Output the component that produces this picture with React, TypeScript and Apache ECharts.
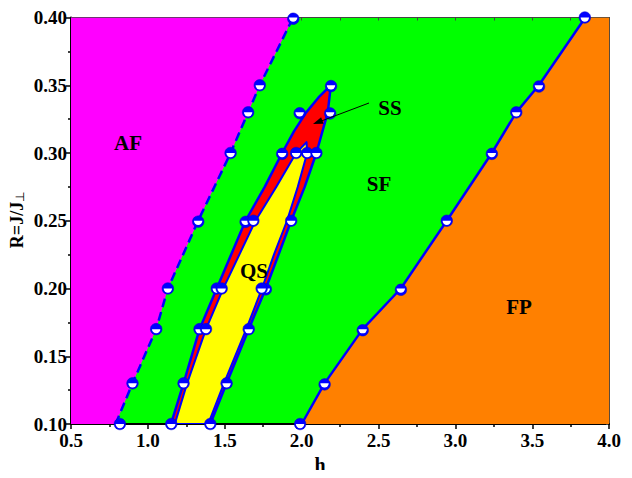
import React, { useEffect, useRef } from "react";
import * as echarts from "echarts";

// ---- data ----
const xTicks = [0.5, 1.0, 1.5, 2.0, 2.5, 3.0, 3.5, 4.0];
const yTicks = [0.1, 0.15, 0.2, 0.25, 0.3, 0.35, 0.4];

// AF / SF boundary (dashed)
const afLineH = [0.79, 0.9, 1.054, 1.13, 1.327, 1.538, 1.652, 1.728, 1.945];
const afLineR = [0.1, 0.13, 0.17, 0.2, 0.25, 0.3, 0.33, 0.35, 0.4];
const afMarkH = [0.818, 0.9, 1.054, 1.13, 1.327, 1.538, 1.652, 1.728, 1.945];
const afMarkR = [0.1, 0.13, 0.17, 0.2, 0.25, 0.3, 0.33, 0.35, 0.4];

// SF / FP boundary (solid)
const fpLineH = [2.0, 2.149, 2.397, 2.645, 2.944, 3.237, 3.396, 3.543, 3.845];
const fpLineR = [0.1, 0.13, 0.17, 0.2, 0.25, 0.3, 0.33, 0.35, 0.4];
const fpMarkH = [1.99, 2.149, 2.397, 2.645, 2.944, 3.237, 3.396, 3.543, 3.842];
const fpMarkR = [0.1, 0.13, 0.17, 0.2, 0.25, 0.3, 0.33, 0.35, 0.4];

// SS + QS envelope (outer boundary)
const ssOuterH = [1.15, 1.232, 1.336, 1.448, 1.635, 1.76, 1.873, 1.95, 2.03, 2.11, 2.19, 2.17, 2.096, 2.02, 1.932, 1.85, 1.767, 1.656, 1.512, 1.406];
const ssOuterR = [0.1, 0.13, 0.17, 0.2, 0.25, 0.275, 0.3, 0.316, 0.33, 0.341, 0.35, 0.33, 0.3, 0.275, 0.25, 0.225, 0.2, 0.17, 0.13, 0.1];

// QS region (inner boundary)
const qsH = [1.175, 1.255, 1.378, 1.49, 1.7, 1.835, 1.964, 2.032, 2.036, 1.975, 1.905, 1.82, 1.742, 1.64, 1.495, 1.392];
const qsR = [0.1, 0.13, 0.17, 0.2, 0.25, 0.275, 0.3, 0.308, 0.3, 0.275, 0.25, 0.225, 0.2, 0.17, 0.13, 0.1];

// markers on the SS/QS boundaries
const ssMarkH = [1.152, 1.232, 1.336, 1.378, 1.448, 1.48, 1.635, 1.686, 1.873, 1.964, 2.036, 2.096, 1.987, 2.185, 2.191, 1.932, 1.767, 1.74, 1.656, 1.512, 1.406];
const ssMarkR = [0.1, 0.13, 0.17, 0.17, 0.2, 0.2, 0.25, 0.25, 0.3, 0.3, 0.3, 0.3, 0.33, 0.33, 0.35, 0.25, 0.2, 0.2, 0.17, 0.13, 0.1];

const phaseNames = ["AF", "SF", "QS", "FP", "SS"];

const X_MIN = 0.5;
const X_MAX = 4.0;
const Y_MIN = 0.1;
const Y_MAX = 0.4;

const zip = (a: number[], b: number[]) => a.map((v, i) => [v, b[i]]);

const FONT = "'Liberation Serif', 'Times New Roman', serif";

function polygonSeries(points: number[][], fill: string, stroke: string | null, lw: number) {
  return {
    type: "custom",
    clip: true,
    silent: true,
    data: [[points[0][0], points[0][1]]],
    renderItem: (_params: any, api: any) => ({
      type: "polygon",
      shape: { points: points.map((p) => api.coord(p)) },
      style: {
        fill,
        stroke: stroke || "none",
        lineWidth: lw,
        lineJoin: "round",
      },
    }),
  };
}

function markerSeries(points: number[][]) {
  return {
    type: "custom",
    clip: false,
    silent: true,
    z: 5,
    data: points,
    renderItem: (_params: any, api: any) => {
      const p = api.coord([api.value(0), api.value(1)]);
      return {
        type: "group",
        children: [
          {
            type: "circle",
            shape: { cx: p[0], cy: p[1], r: 5.8 },
            style: { fill: "#0000ff", stroke: "#0000cc", lineWidth: 0.5 },
          },
          {
            type: "sector",
            shape: { cx: p[0], cy: p[1], r0: 0, r: 4.2, startAngle: 0, endAngle: Math.PI },
            style: { fill: "#ffffff" },
          },
        ],
      };
    },
  };
}

// label positions (pixels inside chart div)
const labelPos: Record<string, number[]> = {
  AF: [120, 135],
  SF: [371, 176],
  QS: [246, 263],
  FP: [511, 299],
  SS: [382, 100],
};

export default function App() {
  const ref = useRef<HTMLDivElement>(null);

  useEffect(() => {
    if (!ref.current) return;
    const chart = echarts.init(ref.current, undefined, { renderer: "svg" });

    const afLine = zip(afLineH, afLineR);
    const fpLine = zip(fpLineH, fpLineR);
    const magenta = [[X_MIN, Y_MIN], ...afLine, [X_MIN, Y_MAX]];
    const orange = [...fpLine, [X_MAX, Y_MAX], [X_MAX, Y_MIN]];

    const labelStyle = {
      fontFamily: FONT,
      fontWeight: "bold",
      fontSize: 19,
      color: "#000",
    };

    const phaseTexts = phaseNames.map((n) => ({
      type: "text",
      id: "lbl_" + n,
      z: 100,
      x: labelPos[n][0],
      y: labelPos[n][1],
      style: {
        text: n,
        fontFamily: FONT,
        fontWeight: "bold",
        fontSize: 21,
        fill: "#000",
        align: "center",
        verticalAlign: "middle",
      },
    }));

    const option: any = {
      animation: false,
      grid: {
        left: 63,
        top: 4,
        width: 550,
        height: 412,
        show: true,
        backgroundColor: "#00ff00",
        borderWidth: 0,
      },
      xAxis: [
        {
          type: "value",
          min: X_MIN,
          max: X_MAX,
          interval: 0.5,
          axisLine: { show: true, onZero: false, lineStyle: { color: "#000", width: 2 } },
          axisTick: { show: true, inside: false, length: 5, lineStyle: { color: "#000", width: 1.5 } },
          minorTick: { show: true, splitNumber: 2, length: 3, lineStyle: { color: "#000", width: 1.5 } },
          splitLine: { show: false },
          axisLabel: {
            ...labelStyle,
            margin: 7,
            formatter: (v: number) => (xTicks.includes(Math.round(v * 10) / 10) ? v.toFixed(1) : ""),
          },
        },
        {
          type: "value",
          position: "top",
          min: X_MIN,
          max: X_MAX,
          interval: 0.25,
          axisLine: { show: true, onZero: false, lineStyle: { color: "#444", width: 1 } },
          axisTick: { show: true, inside: true, length: 3, lineStyle: { color: "#444" } },
          splitLine: { show: false },
          axisLabel: { show: false },
        },
      ],
      yAxis: [
        {
          type: "value",
          min: Y_MIN,
          max: Y_MAX,
          interval: 0.05,
          axisLine: { show: true, onZero: false, lineStyle: { color: "#000", width: 2 } },
          axisTick: { show: true, inside: false, length: 5, lineStyle: { color: "#000", width: 1.5 } },
          minorTick: { show: true, splitNumber: 2, length: 3, lineStyle: { color: "#000", width: 1.5 } },
          splitLine: { show: false },
          axisLabel: {
            ...labelStyle,
            margin: 4,
            formatter: (v: number) => {
              const r = Math.round(v * 100) / 100;
              return yTicks.some((t) => Math.abs(t - r) < 1e-6) ? r.toFixed(2) : "";
            },
          },
        },
        {
          type: "value",
          position: "right",
          min: Y_MIN,
          max: Y_MAX,
          interval: 0.025,
          axisLine: { show: true, onZero: false, lineStyle: { color: "#444", width: 1 } },
          axisTick: { show: true, inside: true, length: 3, lineStyle: { color: "#444" } },
          splitLine: { show: false },
          axisLabel: { show: false },
        },
      ],
      series: [
        polygonSeries(magenta, "#ff00ff", null, 0),
        polygonSeries(orange, "#ff8000", null, 0),
        polygonSeries(zip(ssOuterH, ssOuterR), "#ff0000", "#0000ff", 2.5),
        polygonSeries(zip(qsH, qsR), "#ffff00", "#0000ff", 2),
        {
          type: "line",
          data: afLine,
          showSymbol: false,
          silent: true,
          lineStyle: { color: "#0000ff", width: 2.5, type: [9, 5] },
        },
        {
          type: "line",
          data: fpLine,
          showSymbol: false,
          silent: true,
          lineStyle: { color: "#0000ff", width: 2.5 },
        },
        markerSeries(zip(afMarkH, afMarkR)),
        markerSeries(zip(fpMarkH, fpMarkR)),
        markerSeries(zip(ssMarkH, ssMarkR)),
      ],
      graphic: [
        ...phaseTexts,
        { type: "line", id: "arrowLine", z: 100, shape: { x1: 361, y1: 95, x2: 312, y2: 113.5 }, style: { stroke: "#000", lineWidth: 1 } },
        {
          type: "polygon",
          id: "arrowHead",
          z: 100,
          shape: { points: [[305, 116], [315.6, 115.8], [313.1, 109.2]] },
          style: { fill: "#000" },
        },
        {
          type: "text",
          id: "xTitle",
          z: 100,
          x: 312,
          y: 457,
          style: { text: "h", fontFamily: FONT, fontWeight: "bold", fontSize: 20, fill: "#000", align: "center", verticalAlign: "middle" },
        },
        {
          type: "text",
          id: "yTitle",
          z: 100,
          x: 9,
          y: 212,
          rotation: Math.PI / 2,
          style: {
            text: "{a|R=J/J}{b|⊥}",
            align: "center",
            verticalAlign: "middle",
            rich: {
              a: { fontFamily: FONT, fontWeight: "bold", fontSize: 18, fill: "#000", color: "#000" },
              b: { fontFamily: FONT, fontSize: 12, fill: "#000", color: "#000", verticalAlign: "bottom" },
            },
          },
        },
      ],
    };

    chart.setOption(option);
    return () => chart.dispose();
  }, []);

  return <div ref={ref} style={{ width: 616, height: 470, marginBottom: -8 }} />;
}
